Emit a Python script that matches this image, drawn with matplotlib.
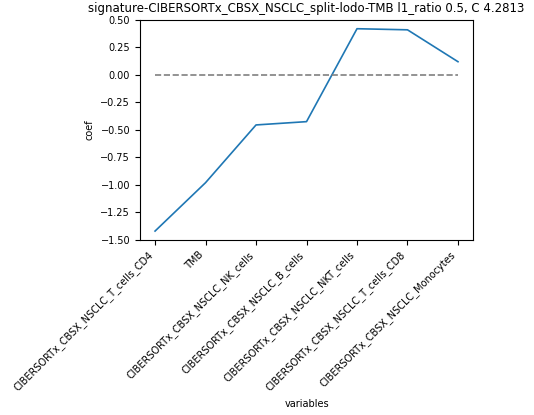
import matplotlib
matplotlib.use("Agg")
import matplotlib.pyplot as plt

variables = ["CIBERSORTx_CBSX_NSCLC_T_cells_CD4", "TMB", "CIBERSORTx_CBSX_NSCLC_NK_cells",
             "CIBERSORTx_CBSX_NSCLC_B_cells", "CIBERSORTx_CBSX_NSCLC_NKT_cells",
             "CIBERSORTx_CBSX_NSCLC_T_cells_CD8", "CIBERSORTx_CBSX_NSCLC_Monocytes"]
coef = [-1.42, -0.98, -0.455, -0.425, 0.42, 0.41, 0.12]

fig = plt.figure(figsize=(5.34, 4.15), dpi=100)
ax = fig.add_axes([0.262, 0.422, 0.624, 0.53])
x = list(range(len(variables)))
ax.plot(x, coef, color="#1f77b4", lw=1.2)
ax.plot(x, [0]*len(x), "--", color="gray", lw=1.2)
ax.set_xticks(x)
ax.set_xticklabels(variables, rotation=45, ha="right", rotation_mode="default")
ax.set_ylim(-1.5, 0.5)
ax.set_yticks([-1.5, -1.25, -1.0, -0.75, -0.5, -0.25, 0.0, 0.25, 0.5])
ax.set_xlabel("variables", fontsize=7)
ax.set_ylabel("coef", fontsize=7)
ax.set_title("signature-CIBERSORTx_CBSX_NSCLC_split-lodo-TMB l1_ratio 0.5, C 4.2813", fontsize=8.5)
ax.tick_params(labelsize=7)
fig.savefig("out.png", dpi=100)
